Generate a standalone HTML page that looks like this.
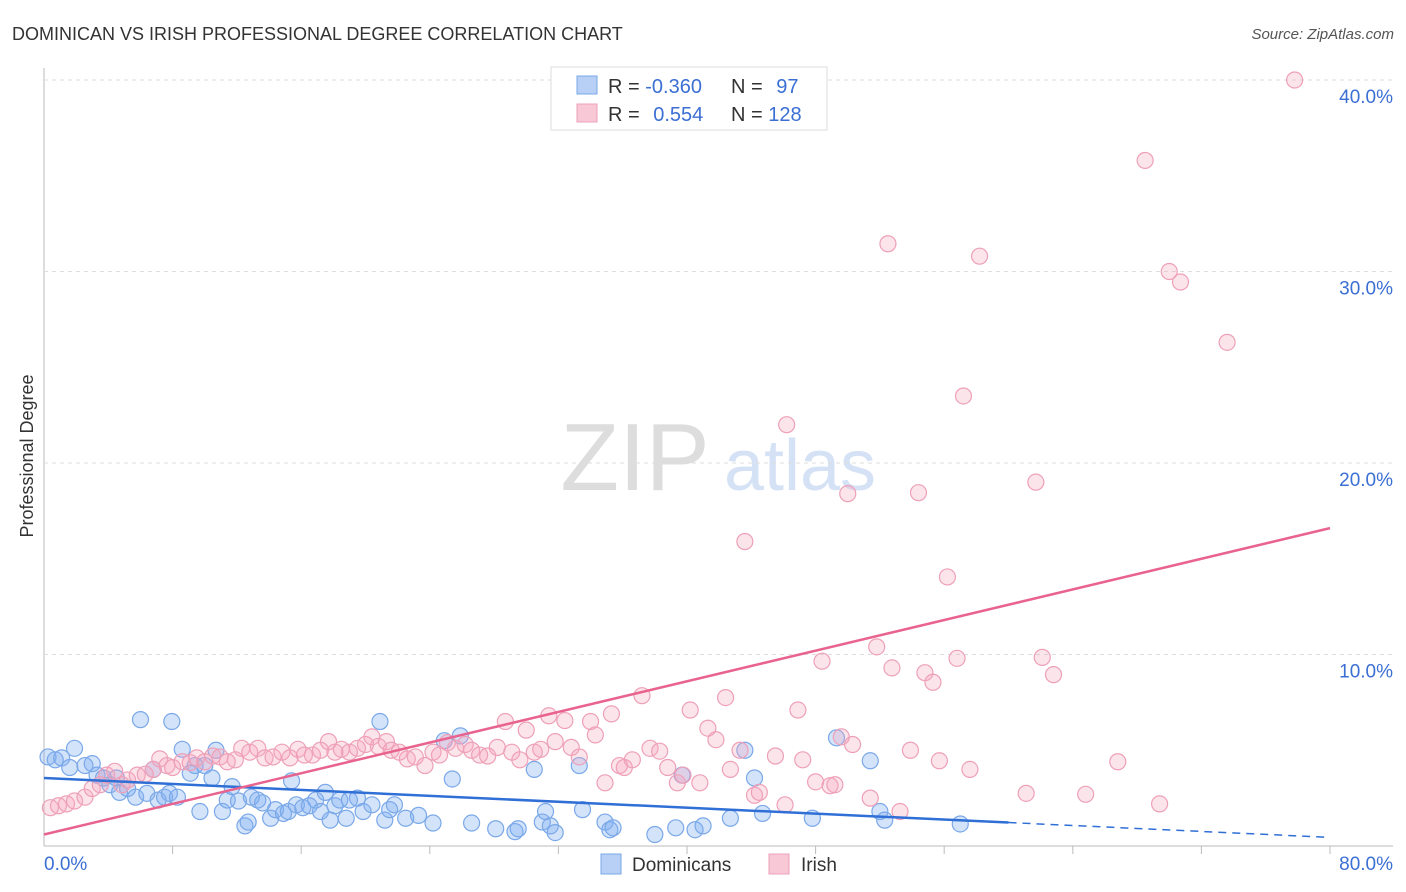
<!DOCTYPE html>
<html><head><meta charset="utf-8"><style>
body{margin:0;background:#fff;font-family:"Liberation Sans",sans-serif;}
#wrap{position:relative;width:1406px;height:892px;overflow:hidden;}
svg text{font-family:"Liberation Sans",sans-serif;}
</style></head><body>
<div id="wrap">
<svg id="chart" width="1406" height="892">
<text x="12" y="40" font-size="18" fill="#333">DOMINICAN VS IRISH PROFESSIONAL DEGREE CORRELATION CHART</text>
<text x="1394" y="39" font-size="15" fill="#555" font-style="italic" text-anchor="end">Source: ZipAtlas.com</text>
<text x="635" y="490" font-size="96" fill="#ddd" font-family="Liberation Serif" text-anchor="middle">ZIP</text>
<text x="800" y="490" font-size="72" fill="#d5e2f5" text-anchor="middle">atlas</text>
<text x="33" y="456" font-size="18" fill="#333" text-anchor="middle" transform="rotate(-90 33 456)">Professional Degree</text>
<g id="grid"></g><g id="pts"></g><g id="trend"></g>
<g>
<rect x="551" y="67" width="276" height="63" fill="#fff" stroke="#ddd"/>
<rect x="577" y="76" width="20" height="18" fill="#b8d0f5" stroke="#7aa8e8"/>
<rect x="577" y="104" width="20" height="18" fill="#f8c8d6" stroke="#eea0b8"/>
<text x="608" y="93" font-size="20" fill="#333">R = <tspan fill="#3b6fd4">-0.360</tspan></text>
<text x="731" y="93" font-size="20" fill="#333">N = <tspan fill="#3b6fd4" dx="8">97</tspan></text>
<text x="608" y="121" font-size="20" fill="#333">R = <tspan fill="#3b6fd4" dx="8">0.554</tspan></text>
<text x="731" y="121" font-size="20" fill="#333">N = <tspan fill="#3b6fd4">128</tspan></text>
</g>
<g>
<rect x="601" y="854" width="20" height="20" fill="#b8d0f5" stroke="#7aa8e8"/>
<text x="632" y="871" font-size="19" fill="#333">Dominicans</text>
<rect x="769" y="854" width="20" height="20" fill="#f8c8d6" stroke="#eea0b8"/>
<text x="801" y="871" font-size="19" fill="#333">Irish</text>
</g>
</svg>
</div>
<script>
const yTicks=[10,20,30,40];
const xTickLabels=["0.0%","80.0%"];
const blueX=[0.25,0.7,1.1,1.9,1.6,2.55,3.0,3.3,3.7,4.1,4.5,4.7,5.2,5.7,6.0,6.4,6.8,7.1,7.5,7.8,7.95,8.3,8.6,9.1,9.4,9.7,10.0,10.45,10.7,11.1,11.4,11.7,12.1,12.5,12.7,12.9,13.3,13.6,14.1,14.4,14.9,15.2,15.4,15.7,16.1,16.5,16.9,17.2,17.5,17.8,18.1,18.4,18.8,19.0,19.5,19.85,20.4,20.9,21.2,21.5,21.8,22.5,23.3,24.2,24.9,25.4,25.9,26.6,28.1,29.3,29.5,30.5,31.0,31.2,31.5,31.8,33.3,33.5,34.9,35.2,35.4,38.0,39.3,39.7,40.5,41.0,42.7,43.6,44.2,44.7,47.8,49.3,51.4,52.0,52.3,57.0];
const blueY=[4.65,4.5,4.6,5.1,4.1,4.2,4.3,3.7,3.55,3.2,3.55,2.8,3.0,2.55,6.6,2.75,4.0,2.4,2.55,2.75,6.5,2.55,5.05,3.8,4.2,1.8,4.2,3.55,5.0,1.8,2.4,3.1,2.35,1.05,1.25,2.55,2.4,2.25,1.45,1.9,1.7,1.8,3.4,2.15,2.0,2.1,2.4,1.8,2.8,1.35,2.1,2.4,1.45,2.4,2.5,1.8,2.15,6.5,1.35,1.9,2.15,1.45,1.6,1.2,5.5,3.5,5.75,1.2,0.9,0.75,0.9,4.0,1.25,1.8,1.05,0.7,4.2,1.9,1.25,0.85,0.95,0.6,0.95,3.7,0.85,1.05,1.45,5.0,3.55,1.7,1.45,5.65,4.45,1.8,1.35,1.15];
const pinkX=[0.4,0.9,1.4,1.9,2.55,3.0,3.5,3.9,4.4,4.85,5.2,5.8,6.3,6.8,7.2,7.65,8.0,8.6,9.1,9.5,10.0,10.5,10.95,11.4,11.9,12.3,12.8,13.3,13.75,14.25,14.8,15.3,15.8,16.2,16.7,17.2,17.7,18.1,18.5,19.0,19.5,20.0,20.4,20.8,21.3,21.6,22.1,22.6,23.1,23.7,24.2,24.6,25.1,25.6,26.2,26.6,27.1,27.6,28.2,28.7,29.1,29.6,30.0,30.5,30.9,31.4,31.8,32.4,32.8,33.3,34.0,34.3,34.9,35.3,35.8,36.1,36.6,37.2,37.7,38.3,38.8,39.4,39.75,40.2,40.8,41.3,41.8,42.4,42.7,43.3,43.6,44.2,44.5,45.5,46.1,46.2,46.9,47.2,48.0,48.4,48.9,49.2,49.6,50.0,50.3,51.4,51.8,52.5,52.75,53.25,53.9,54.4,54.8,55.3,55.7,56.2,56.8,57.2,57.6,58.2,61.1,61.7,62.1,62.8,64.8,66.8,68.5,69.4,70.0,70.7,73.6,77.8];
const pinkY=[2.0,2.1,2.2,2.35,2.55,3.0,3.2,3.7,3.9,3.2,3.45,3.7,3.75,4.0,4.55,4.2,4.1,4.4,4.35,4.6,4.4,4.7,4.65,4.4,4.5,5.1,4.9,5.1,4.6,4.65,4.9,4.6,5.05,4.75,4.75,5.0,5.45,4.9,5.05,4.9,5.1,5.3,5.7,5.2,5.45,5.0,4.9,4.55,4.65,4.2,4.9,4.75,5.4,5.1,5.3,5.0,4.75,4.7,5.15,6.5,4.9,4.5,6.05,4.9,5.05,6.8,5.45,6.55,5.15,4.65,6.5,5.8,3.3,6.9,4.2,4.1,4.5,7.85,5.1,4.95,4.1,3.3,3.7,7.1,3.3,6.15,5.55,7.75,4.0,5.0,15.9,2.65,2.8,4.7,2.15,22.0,7.1,4.5,3.35,9.65,3.15,3.2,5.7,18.4,5.3,2.5,10.4,31.45,9.3,1.8,5.0,18.45,9.05,8.55,4.45,14.05,9.8,23.5,4.0,30.8,2.75,19.0,9.85,8.95,2.7,4.4,35.8,2.2,30.0,29.45,26.3,40.0];
const blueTrend=[3.55,0.45];const blueSolidEnd=60;
const pinkTrend=[0.6,16.6];
const NS="http://www.w3.org/2000/svg";
const X0=44,X1=1330,Y0=846,Y40=80;
const sx=v=>X0+(X1-X0)*v/80, sy=v=>Y0-(Y0-Y40)*v/40;
function mk(tag,attrs,parent){const e=document.createElementNS(NS,tag);for(const k in attrs)e.setAttribute(k,attrs[k]);parent.appendChild(e);return e;}
const grid=document.getElementById('grid');
let ax=mk('line',{x1:X0,y1:68,x2:X0,y2:Y0,stroke:'#bbb'},grid);


let bx=mk('line',{x1:X0,y1:Y0,x2:1393,y2:Y0,stroke:'#bbb'},grid);


for(let i=1;i<=10;i++){const t=mk('line',{x1:X0+i*128.6,y1:Y0,x2:X0+i*128.6,y2:Y0+8,stroke:'#bbb'},grid);

}
yTicks.forEach(v=>{const g=mk('line',{x1:X0,y1:sy(v),x2:1393,y2:sy(v),stroke:'#ddd','stroke-dasharray':'4 4'},grid);


const t=mk('text',{x:1393,y:sy(v)+23,'font-size':19,fill:'#3b6fd4','text-anchor':'end'},grid);t.textContent=v.toFixed(1)+'%';

});
[[X0+25,'start'],[1393,'end']].forEach((p,i)=>{const t=mk('text',{x:i?1393:44,y:870,'font-size':19,fill:'#3b6fd4','text-anchor':p[1]},grid);t.textContent=xTickLabels[i];

});
const pts=document.getElementById('pts');
blueX.forEach((x,i)=>{const c=mk('circle',{cx:sx(x),cy:sy(blueY[i]),r:8,fill:'rgba(130,175,240,0.35)',stroke:'#7aa8e8','stroke-width':1.2},pts);

});
pinkX.forEach((x,i)=>{const c=mk('circle',{cx:sx(x),cy:sy(pinkY[i]),r:8,fill:'rgba(245,165,190,0.3)',stroke:'#eea0b8','stroke-width':1.2},pts);

});
const tr=document.getElementById('trend');
const bAt=v=>blueTrend[0]+(blueTrend[1]-blueTrend[0])*v/80;
let l1=mk('line',{x1:sx(0),y1:sy(bAt(0)),x2:sx(blueSolidEnd),y2:sy(bAt(blueSolidEnd)),stroke:'#2f6fd6','stroke-width':2.5},tr);


let l2=mk('line',{x1:sx(blueSolidEnd),y1:sy(bAt(blueSolidEnd)),x2:sx(80),y2:sy(bAt(80)),stroke:'#2f6fd6','stroke-width':1.5,'stroke-dasharray':'8 6'},tr);


let l3=mk('line',{x1:sx(0),y1:sy(pinkTrend[0]),x2:sx(80),y2:sy(pinkTrend[1]),stroke:'#e8638e','stroke-width':2.5},tr);


</script>
</body></html>
